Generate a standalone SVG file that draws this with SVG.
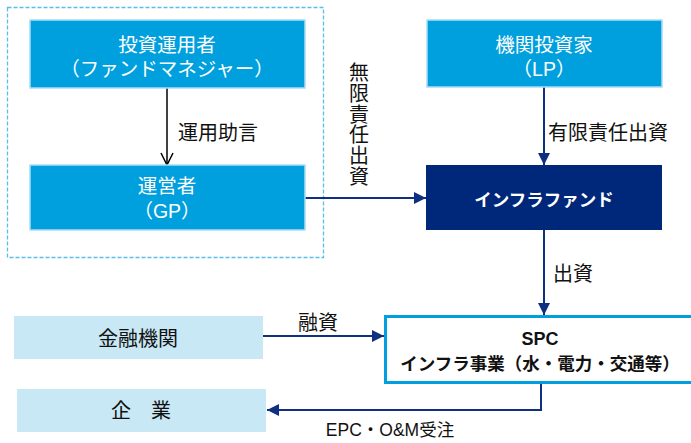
<svg xmlns="http://www.w3.org/2000/svg" width="691" height="443" viewBox="0 0 691 443">
<style>
text{font-family:"Liberation Sans","Noto Sans CJK JP",sans-serif;text-anchor:middle;dominant-baseline:central}
.blue{fill:#00A0DE;stroke:#A8DDF3;stroke-width:1.5}
.lt{fill:#C8E8F5}
.w{fill:#fff;font-size:19.5px}
.k{fill:#111;font-size:20px}
.nv{stroke:#0F2F80;stroke-width:2;fill:none}
.bk{stroke:#000;stroke-width:1.5;fill:none}
</style>
<defs>
<marker id="ah" viewBox="0 0 12 12" refX="12" refY="6" markerWidth="12" markerHeight="12" markerUnits="userSpaceOnUse" orient="auto">
<path d="M0,0 L12,6 L0,12 Z" fill="#0F2F80"/>
</marker>
<marker id="ov" viewBox="0 0 14 14" refX="13" refY="7" markerWidth="14" markerHeight="14" markerUnits="userSpaceOnUse" orient="auto">
<path d="M1,1 L13,7 L1,13" fill="none" stroke="#000" stroke-width="1.5"/>
</marker>
</defs>
<rect x="7.5" y="7.5" width="316" height="250" fill="none" stroke="#5CBDE6" stroke-width="1.3" stroke-dasharray="4,2"/>
<g id="connectors">
<line class="bk" x1="167" y1="88" x2="167" y2="165" marker-end="url(#ov)"/>
<line class="nv" x1="544" y1="87" x2="544" y2="165" marker-end="url(#ah)"/>
<line class="nv" x1="305" y1="198" x2="426" y2="198" marker-end="url(#ah)"/>
<line class="nv" x1="544" y1="230" x2="544" y2="315" marker-end="url(#ah)"/>
<line class="nv" x1="263" y1="336" x2="384" y2="336" marker-end="url(#ah)"/>
<polyline class="nv" points="541,383 541,410 267,410" marker-end="url(#ah)"/>
<text class="k" x="218" y="133">運用助言</text>
<text class="k" x="608" y="133">有限責任出資</text>
<text class="k" x="359" y="73">無</text>
<text class="k" x="359" y="94">限</text>
<text class="k" x="359" y="115">責</text>
<text class="k" x="359" y="135">任</text>
<text class="k" x="359" y="156">出</text>
<text class="k" x="359" y="177">資</text>
<text class="k" x="573" y="274">出資</text>
<text class="k" x="318" y="323">融資</text>
<text class="k" x="390" y="430" style="font-size:17.5px">EPC・O&amp;M受注</text>
</g>
<g id="fund-manager">
<rect class="blue" x="30" y="20" width="275" height="68"/>
<text class="w" x="167" y="45">投資運用者</text>
<text class="w" x="167" y="69">（ファンドマネジャー）</text>
</g>
<g id="gp">
<rect class="blue" x="30" y="165" width="275" height="65"/>
<text class="w" x="167" y="186">運営者</text>
<text class="w" x="167" y="211">（GP）</text>
</g>
<g id="lp">
<rect class="blue" x="427" y="20" width="235" height="67"/>
<text class="w" x="544" y="45">機関投資家</text>
<text class="w" x="544" y="69">（LP）</text>
</g>
<g id="infra-fund">
<rect x="426" y="165" width="236" height="65" fill="#00287A"/>
<text x="544" y="200" fill="#fff" style="font-size:17.5px;font-weight:bold">インフラファンド</text>
</g>
<g id="spc">
<rect x="385.5" y="316.5" width="310" height="66" fill="#fff" stroke="#00A0E0" stroke-width="3"/>
<text x="540" y="339" fill="#111" style="font-size:18px;font-weight:bold">SPC</text>
<text x="540" y="364" fill="#111" style="font-size:17.5px;font-weight:bold">インフラ事業（水・電力・交通等）</text>
</g>
<g id="bank">
<rect class="lt" x="14" y="316" width="249" height="43"/>
<text class="k" x="138" y="339">金融機関</text>
</g>
<g id="company">
<rect class="lt" x="17" y="389" width="249" height="43"/>
<text class="k" x="141" y="411">企　業</text>
</g>
</svg>
